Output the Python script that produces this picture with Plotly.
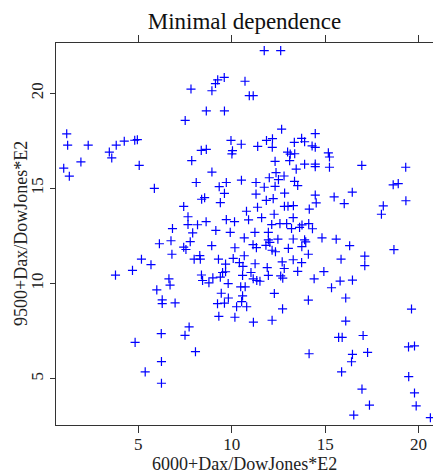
import plotly.graph_objects as go

# Values
x_vals = [
    11.74, 12.62, 9.60, 9.25, 9.13, 10.71, 7.82, 8.94, 10.94, 11.15,
    8.64, 9.61, 7.51, 12.67, 14.47, 1.17, 1.22, 2.32, 3.45, 3.58,
    3.82, 4.25, 4.81, 4.95, 5.05, 1.01, 1.31, 1.93, 5.86, 9.96,
    10.51, 11.39, 11.86, 12.18, 12.17, 13.35, 13.74, 13.90, 14.30, 14.47,
    10.04, 10.01, 8.37, 8.64, 12.99, 13.13, 13.37, 13.10, 12.32, 15.17,
    15.23, 14.47, 14.47, 13.90, 13.45, 15.23, 16.96, 19.31, 7.86, 8.94,
    12.37, 8.10, 9.71, 9.33, 9.61, 10.52, 11.30, 12.01, 12.50, 12.80,
    11.74, 12.32, 13.36, 13.53, 11.30, 12.83, 14.47, 15.48, 16.45, 18.64,
    18.91, 8.39, 8.55, 9.39, 7.43, 11.85, 12.22, 14.52, 16.02, 19.32,
    11.38, 12.82, 13.01, 13.30, 14.15, 18.11, 18.01, 10.79, 12.27, 7.66,
    7.66, 8.17, 8.63, 9.71, 10.15, 10.90, 11.60, 13.29, 12.14, 12.58,
    12.94, 13.63, 13.76, 14.12, 13.20, 14.32, 6.83, 7.91, 9.15, 9.92,
    11.24, 11.96, 10.67, 11.96, 12.04, 12.47, 13.29, 13.90, 13.96, 14.83,
    15.59, 16.31, 18.68, 10.17, 11.14, 11.32, 11.83, 12.16, 12.34, 13.03,
    13.75, 14.10, 17.12, 17.12, 15.85, 10.08, 10.67, 9.67, 10.41, 10.60,
    11.25, 12.70, 12.81, 13.29, 13.74, 11.90, 9.51, 9.67, 10.58, 11.03,
    11.96, 12.62, 12.73, 13.53, 14.93, 14.41, 15.80, 16.46, 11.15, 11.34,
    11.51, 9.81, 10.48, 10.72, 15.34, 6.13, 6.75, 7.78, 7.43, 7.55,
    8.93, 6.80, 8.29, 8.32, 7.99, 5.17, 5.68, 9.29, 4.69, 3.78,
    8.38, 8.44, 8.99, 9.39, 8.78, 6.64, 6.70, 5.99, 12.28, 9.44,
    9.82, 10.58, 9.61, 9.24, 10.26, 10.53, 10.80, 12.72, 14.10, 16.10,
    19.62, 6.28, 6.28, 6.97, 9.31, 10.17, 11.16, 12.16, 16.10, 15.72,
    15.91, 17.03, 19.46, 19.78, 14.14, 16.46, 16.41, 17.27, 15.88, 19.47,
    16.97, 19.78, 17.37, 19.87, 16.53, 20.63, 7.72, 7.50, 6.23, 4.83,
    8.06, 6.24, 5.37, 6.24,
]
y_vals = [
    22.24, 22.24, 20.83, 20.70, 20.51, 20.63, 20.22, 20.13, 19.87, 19.87,
    19.07, 19.07, 18.57, 18.11, 17.88, 17.87, 17.27, 17.27, 16.91, 16.60,
    17.27, 17.48, 17.53, 17.56, 16.21, 16.06, 15.64, 16.39, 15.00, 17.52,
    17.32, 17.21, 17.52, 17.61, 17.16, 17.42, 17.63, 17.45, 17.23, 17.16,
    16.98, 16.81, 17.00, 17.05, 16.91, 16.80, 16.82, 16.46, 16.42, 16.87,
    16.65, 16.28, 16.14, 16.27, 16.01, 16.11, 16.21, 16.11, 16.46, 15.86,
    15.83, 15.31, 15.31, 15.09, 14.74, 15.43, 15.31, 15.56, 15.46, 15.65,
    15.06, 15.11, 15.37, 15.15, 14.70, 14.75, 14.65, 14.55, 14.80, 15.19,
    15.25, 14.43, 14.51, 14.25, 14.05, 14.37, 14.46, 14.24, 14.20, 14.35,
    14.01, 14.06, 14.06, 14.09, 13.91, 14.08, 13.64, 13.80, 13.64, 13.51,
    13.10, 13.09, 13.25, 13.36, 13.25, 13.35, 13.46, 13.46, 13.10, 13.15,
    13.15, 12.95, 13.08, 13.15, 12.89, 12.88, 12.89, 12.66, 12.79, 12.69,
    12.69, 12.69, 12.40, 12.29, 12.16, 12.33, 12.34, 12.30, 12.19, 12.40,
    12.33, 11.99, 11.78, 11.88, 12.04, 11.89, 12.01, 11.75, 11.67, 11.85,
    11.94, 11.54, 11.44, 10.94, 11.28, 11.32, 11.46, 11.02, 11.10, 10.90,
    11.04, 11.14, 10.79, 11.25, 11.10, 10.84, 10.58, 10.62, 10.43, 10.58,
    10.43, 10.40, 10.28, 10.64, 10.63, 10.25, 10.13, 10.18, 10.25, 10.16,
    10.12, 10.00, 9.83, 9.83, 9.78, 12.09, 12.25, 12.20, 11.91, 11.79,
    11.99, 11.54, 11.47, 11.28, 11.28, 11.28, 10.99, 11.28, 10.69, 10.44,
    10.45, 10.16, 10.30, 10.34, 10.04, 10.25, 9.92, 9.67, 9.48, 9.49,
    9.24, 9.35, 8.97, 8.94, 8.78, 9.05, 8.78, 8.67, 9.13, 9.24,
    8.66, 9.14, 8.95, 8.98, 8.28, 8.23, 7.97, 8.07, 8.03, 7.17,
    7.17, 7.27, 6.67, 6.72, 6.31, 6.28, 5.89, 6.38, 5.36, 5.11,
    4.45, 4.25, 3.61, 3.57, 3.09, 2.95, 7.72, 7.28, 7.37, 6.91,
    6.42, 5.90, 5.36, 4.76,
]
tick_vals = [5, 10, 15, 20]
tick_text = ["5", "10", "15", "20"]
title_text = "Minimal dependence"
x_title = "6000+Dax/DowJones*E2"
y_title = "9500+Dax/DowJones*E2"

FONT = "Liberation Serif"
AX = "#333333"

fig = go.Figure()
fig.add_trace(go.Scatter(
    x=x_vals, y=y_vals, mode="markers",
    marker=dict(symbol="cross-thin", size=6.5, color="#0000FF",
                line=dict(color="#0000FF", width=1.2)),
    hoverinfo="skip", showlegend=False,
))

fig.update_layout(
    width=433, height=475,
    margin=dict(l=56, r=0, t=43, b=50),
    paper_bgcolor="white", plot_bgcolor="white",
    font=dict(family=FONT, color="#222222"),
    title=dict(text=title_text, x=0.5, xref="paper", xanchor="center",
               y=1 - 21 / 475, yanchor="middle",
               font=dict(family=FONT, size=23, color="#111111")),
    xaxis=dict(range=[0.597, 20.77], tickvals=tick_vals, ticktext=tick_text,
               showgrid=False, zeroline=False, showline=True, linecolor=AX,
               linewidth=1.3, mirror="ticks", ticks="outside", ticklen=7,
               tickcolor=AX, tickwidth=1.3, ticklabelstandoff=-4,
               tickfont=dict(family=FONT, size=17, color="#222222")),
    yaxis=dict(range=[2.567, 22.64], tickvals=tick_vals, ticktext=tick_text,
               showgrid=False, zeroline=False, showline=True, linecolor=AX,
               linewidth=1.3, ticks="outside", ticklen=5, tickcolor=AX,
               tickwidth=1.3, tickangle=-90,
               tickfont=dict(family=FONT, size=17, color="#222222")),
    annotations=[
        dict(text=x_title, xref="paper", yref="paper", x=0.5,
             y=(425 - 464) / 382, xanchor="center", yanchor="middle",
             showarrow=False, font=dict(family=FONT, size=18, color="#222222")),
        dict(text=y_title, xref="paper", yref="paper", x=(21 - 56) / 377,
             y=0.5, xanchor="center", yanchor="middle", textangle=-90,
             showarrow=False, font=dict(family=FONT, size=18, color="#222222")),
    ],
)

fig.write_html("out.html")
